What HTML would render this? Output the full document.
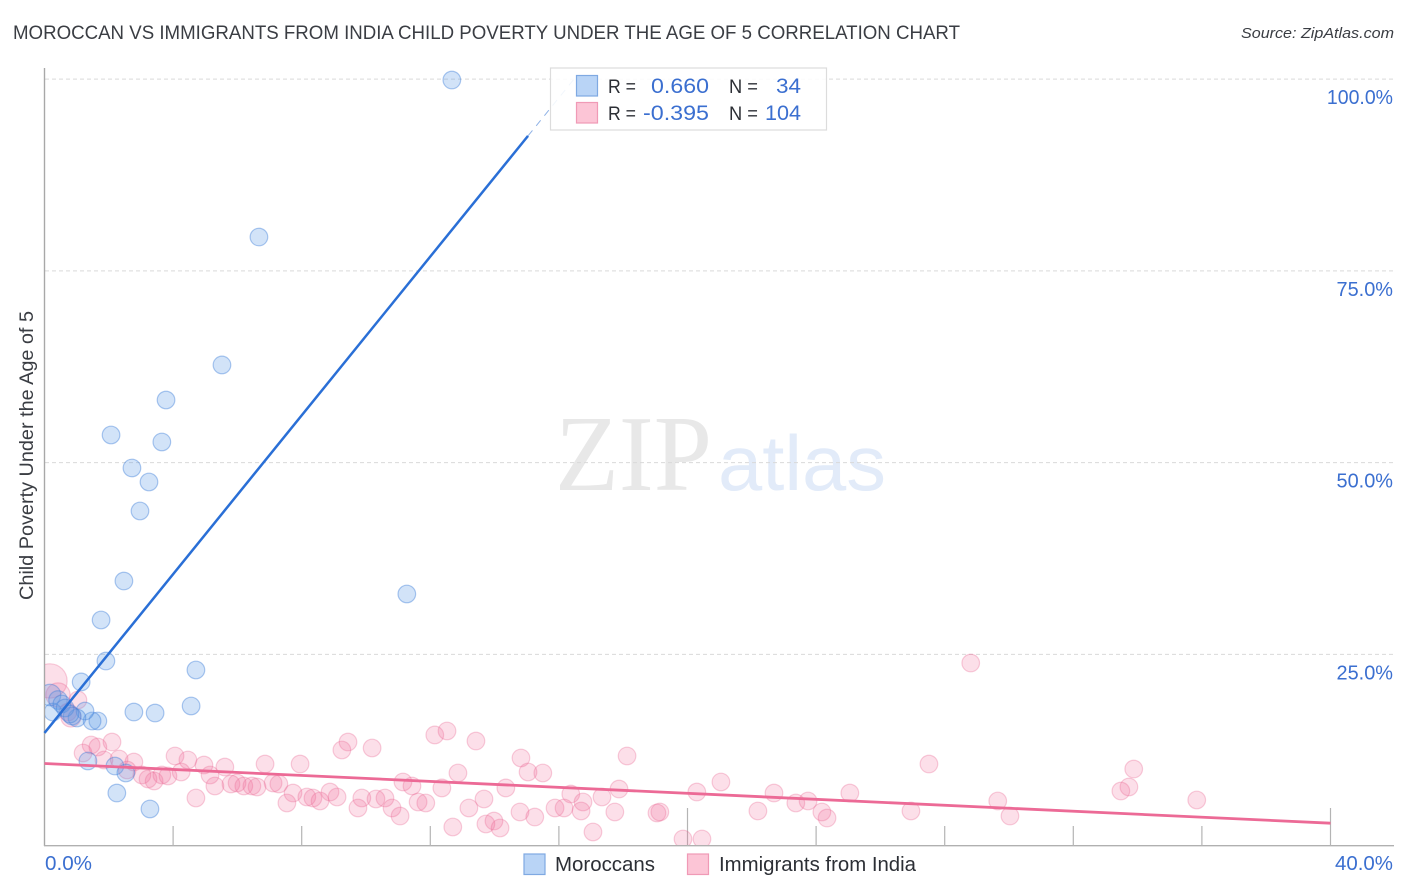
<!DOCTYPE html>
<html lang="en">
<head>
<meta charset="utf-8">
<title>Moroccan vs Immigrants from India Child Poverty Correlation Chart</title>
<style>
html,body{margin:0;padding:0;background:#fff;}
svg{display:block;font-family:"Liberation Sans",sans-serif;}
</style>
</head>
<body>
<svg id="chart" width="1406" height="892" viewBox="0 0 1406 892" xmlns="http://www.w3.org/2000/svg">
  <defs>
    <clipPath id="plot-clip"><rect x="45" y="60" width="1349" height="785"></rect></clipPath>
  </defs>
  <text x="13" y="39" font-size="19" fill="#3a3d43" textLength="947" lengthAdjust="spacingAndGlyphs">MOROCCAN VS IMMIGRANTS FROM INDIA CHILD POVERTY UNDER THE AGE OF 5 CORRELATION CHART</text>
  <text x="1394" y="38" font-size="15" font-style="italic" fill="#3a3d43" text-anchor="end" textLength="153" lengthAdjust="spacingAndGlyphs">Source: ZipAtlas.com</text>

  <g>
    <text x="555" y="490" font-family="'Liberation Serif',serif" font-size="108" fill="#e8e8e8" textLength="157" lengthAdjust="spacingAndGlyphs">ZIP</text>
    <text x="718" y="490" font-size="78" fill="#e2ebf9" textLength="168" lengthAdjust="spacingAndGlyphs">atlas</text>
  </g>

  <g id="grid"></g>
  <g id="axes"></g>
  <g id="pink-points" clip-path="url(#plot-clip)"></g>
  <g id="blue-points" clip-path="url(#plot-clip)"></g>
  <g id="trends"></g>

  <text transform="translate(33,455.5) rotate(-90)" font-size="19" fill="#3a3d43" text-anchor="middle" textLength="289" lengthAdjust="spacingAndGlyphs">Child Poverty Under the Age of 5</text>
  <text x="45" y="870" font-size="20" fill="#3b6fd0" textLength="47" lengthAdjust="spacingAndGlyphs">0.0%</text>
  <text x="1393" y="870" font-size="20" fill="#3b6fd0" text-anchor="end" textLength="58" lengthAdjust="spacingAndGlyphs">40.0%</text>

  <g>
    <rect x="550.5" y="68" width="276" height="62" fill="#fff" fill-opacity="0.88" stroke="#dcdcdc" stroke-width="1.2"></rect>
    <rect x="576.5" y="75.5" width="21" height="20.5" fill="#b9d4f6" stroke="#7fa9e2" stroke-width="1.2"></rect>
    <rect x="576.5" y="102.5" width="21" height="20.5" fill="#fcc5d6" stroke="#f09ab6" stroke-width="1.2"></rect>
    <text x="608" y="93" font-size="19" fill="#2c2f35" textLength="28" lengthAdjust="spacingAndGlyphs">R =</text>
    <text x="709" y="93" font-size="21" fill="#3b6fd0" text-anchor="end" textLength="58" lengthAdjust="spacingAndGlyphs">0.660</text>
    <text x="729" y="93" font-size="19" fill="#2c2f35" textLength="29" lengthAdjust="spacingAndGlyphs">N =</text>
    <text x="801" y="93" font-size="21" fill="#3b6fd0" text-anchor="end" textLength="25" lengthAdjust="spacingAndGlyphs">34</text>
    <text x="608" y="120" font-size="19" fill="#2c2f35" textLength="28" lengthAdjust="spacingAndGlyphs">R =</text>
    <text x="709" y="120" font-size="21" fill="#3b6fd0" text-anchor="end" textLength="66" lengthAdjust="spacingAndGlyphs">-0.395</text>
    <text x="729" y="120" font-size="19" fill="#2c2f35" textLength="29" lengthAdjust="spacingAndGlyphs">N =</text>
    <text x="801" y="120" font-size="21" fill="#3b6fd0" text-anchor="end" textLength="36" lengthAdjust="spacingAndGlyphs">104</text>
  </g>

  <g>
    <rect x="524" y="854" width="21" height="20.5" fill="#b9d4f6" stroke="#7fa9e2" stroke-width="1.2"></rect>
    <text x="555" y="871" font-size="20" fill="#2c2f35" textLength="100" lengthAdjust="spacingAndGlyphs">Moroccans</text>
    <rect x="687.5" y="854" width="21" height="20.5" fill="#fcc5d6" stroke="#f09ab6" stroke-width="1.2"></rect>
    <text x="719" y="871" font-size="20" fill="#2c2f35" textLength="197" lengthAdjust="spacingAndGlyphs">Immigrants from India</text>
  </g>
</svg>
<script>
var blueX = [12.67,6.67,5.52,3.78,2.07,3.65,2.72,3.25,2.97,2.47,11.27,1.76,1.91,4.71,1.14,4.56,2.78,3.44,1.66,1.48,1.35,2.19,2.53,2.25,3.28,1.26,0.26,1.01,0.17,0.42,0.86,0.54,0.64,0.79];
var blueY = [99.88,79.41,62.73,58.16,53.60,52.69,49.30,47.47,43.69,34.56,32.87,29.48,24.13,22.96,21.40,18.27,17.48,17.35,16.31,16.31,11.10,10.44,9.53,6.92,4.84,17.61,17.48,16.70,19.70,19.05,16.96,18.53,18.01,17.22];
var blueWeight = [1,1,1,1,1,1,1,1,1,1,1,1,1,1,1,1,1,1,1,1,1,1,1,1,1,1,1,1,1.5,1.1,1,1,1,1];

var pinkX = [0.17,0.42,1.04,0.73,0.82,1.45,2.10,1.20,1.66,1.85,2.32,2.78,2.57,3.03,3.22,3.41,3.65,3.84,4.06,4.46,4.25,4.96,5.15,5.61,5.30,5.80,5.99,6.20,6.45,6.61,6.86,7.11,7.29,7.73,7.95,7.54,8.16,8.35,8.57,8.88,9.10,4.71,9.44,9.25,10.19,11.15,11.43,9.87,9.75,10.31,10.59,10.81,11.06,11.62,11.86,12.14,12.52,13.42,12.86,12.36,13.20,13.67,12.70,13.73,13.98,14.17,14.35,14.82,15.04,15.50,14.79,15.25,15.88,16.16,16.37,16.75,16.69,17.34,17.74,17.87,18.12,17.06,19.05,19.14,19.86,20.29,20.45,21.04,22.19,22.69,23.37,23.75,24.18,24.34,25.05,26.95,27.51,28.81,29.65,30.03,33.88,33.73,33.48,35.84];
var pinkY = [21.53,19.70,19.05,17.48,16.83,13.18,13.57,12.14,12.92,11.23,11.36,10.96,9.92,9.27,8.75,8.49,9.27,9.14,11.75,11.23,9.66,10.57,9.27,10.31,7.84,8.10,8.23,7.84,7.84,7.71,10.70,8.23,8.10,6.92,10.70,5.62,6.40,6.27,5.88,7.05,6.40,6.27,13.57,12.53,12.79,8.36,7.84,6.27,4.97,6.14,6.27,4.97,3.92,5.75,5.62,14.49,15.01,13.70,9.53,7.58,4.97,6.14,2.49,2.88,3.27,2.36,7.58,11.49,9.66,9.53,4.45,3.79,4.97,4.97,6.79,5.75,4.58,6.40,4.45,7.44,11.75,1.84,4.32,4.45,0.93,7.05,0.93,8.36,4.58,6.92,5.62,5.88,4.45,3.66,6.92,4.58,10.70,23.87,5.88,3.92,10.05,7.71,7.18,6.01];
var pinkWeight = [3.8,1.9,1,1,1.3,1,1,1,1,1,1,1,1,1,1,1,1,1,1,1,1,1,1,1,1,1,1,1,1,1,1,1,1,1,1,1,1,1,1,1,1,1,1,1,1,1,1,1,1,1,1,1,1,1,1,1,1,1,1,1,1,1,1,1,1,1,1,1,1,1,1,1,1,1,1,1,1,1,1,1,1,1,1,1,1,1,1,1,1,1,1,1,1,1,1,1,1,1,1,1,1,1,1,1];

var blueTrendX = [0,15.04];
var blueTrendY = [14.75,92.6];
var blueTrendExtensionX = [15.04,16.47];
var blueTrendExtensionY = [92.6,100];
var pinkTrendX = [0,40];
var pinkTrendY = [10.77,2.99];

var yTickValues = [100,75,50,25];
var yTickLabels = ['100.0%','75.0%','50.0%','25.0%'];
var xTickValues = [0,4,8,12,16,20,24,28,32,36,40];
var xMajorTicks = [20,40];

var NS = 'http://www.w3.org/2000/svg';
function xScale(v){ return 44.5 + v * (1330.5 - 44.5) / 40; }
function yScale(v){ return 846.1 - v * 7.67; }
function make(tag, attrs, parent){
  var el = document.createElementNS(NS, tag);
  for (var k in attrs) { el.setAttribute(k, attrs[k]); }
  parent.appendChild(el);
  return el;
}

var grid = document.getElementById('grid');
var axes = document.getElementById('axes');

yTickValues.forEach(function(v, i){
  var line = make('line', {x1:45, x2:1394, y1:yScale(v), y2:yScale(v), stroke:'#d9d9d9', 'stroke-width':1, 'stroke-dasharray':'4 3'}, grid);
  
  
  var label = make('text', {x:1393, y:yScale(v) + 25, 'font-size':20, fill:'#3b6fd0', 'text-anchor':'end', textLength:yTickLabels[i].length * 9.6 + 8.5, lengthAdjust:'spacingAndGlyphs'}, axes);
  label.textContent = yTickLabels[i];
  
  
});

var yAxis = make('line', {x1:44.5, x2:44.5, y1:68, y2:846, stroke:'#a8a8a8', 'stroke-width':1.4}, axes);


var xAxis = make('line', {x1:44, x2:1394, y1:845.7, y2:845.7, stroke:'#b0b0b0', 'stroke-width':1.4}, axes);



xTickValues.forEach(function(v){
  if (v === 0) { return; }
  var top = xMajorTicks.indexOf(v) >= 0 ? 808 : 826;
  var tick = make('line', {x1:xScale(v), x2:xScale(v), y1:top, y2:846, stroke:'#b4b4b4', 'stroke-width':1.2}, axes);
  
  
});

var pinkGroup = document.getElementById('pink-points');
pinkX.forEach(function(v, i){
  var dot = make('circle', {cx:xScale(v), cy:yScale(pinkY[i]), r:8.8 * Math.sqrt(pinkWeight[i]), fill:'#f06a96', 'fill-opacity':0.21, stroke:'#ea6a94', 'stroke-opacity':0.33, 'stroke-width':1.2}, pinkGroup);
  
  
});

var blueGroup = document.getElementById('blue-points');
blueX.forEach(function(v, i){
  var dot = make('circle', {cx:xScale(v), cy:yScale(blueY[i]), r:8.8 * Math.sqrt(blueWeight[i]), fill:'#5c9ce6', 'fill-opacity':0.28, stroke:'#3f7fd8', 'stroke-opacity':0.42, 'stroke-width':1.2}, blueGroup);
  
  
});

var trends = document.getElementById('trends');
var blueTrend = make('line', {x1:xScale(blueTrendX[0]), y1:yScale(blueTrendY[0]), x2:xScale(blueTrendX[1]), y2:yScale(blueTrendY[1]), stroke:'#2a6fd6', 'stroke-width':2.5}, trends);


var blueExt = make('line', {x1:xScale(blueTrendExtensionX[0]), y1:yScale(blueTrendExtensionY[0]), x2:xScale(blueTrendExtensionX[1]), y2:yScale(blueTrendExtensionY[1]), stroke:'#8fb2e6', 'stroke-width':1, 'stroke-dasharray':'7 6'}, trends);


var pinkTrend = make('line', {x1:xScale(pinkTrendX[0]), y1:yScale(pinkTrendY[0]), x2:xScale(pinkTrendX[1]), y2:yScale(pinkTrendY[1]), stroke:'#ec6a96', 'stroke-width':2.8}, trends);


</script>
</body>
</html>
